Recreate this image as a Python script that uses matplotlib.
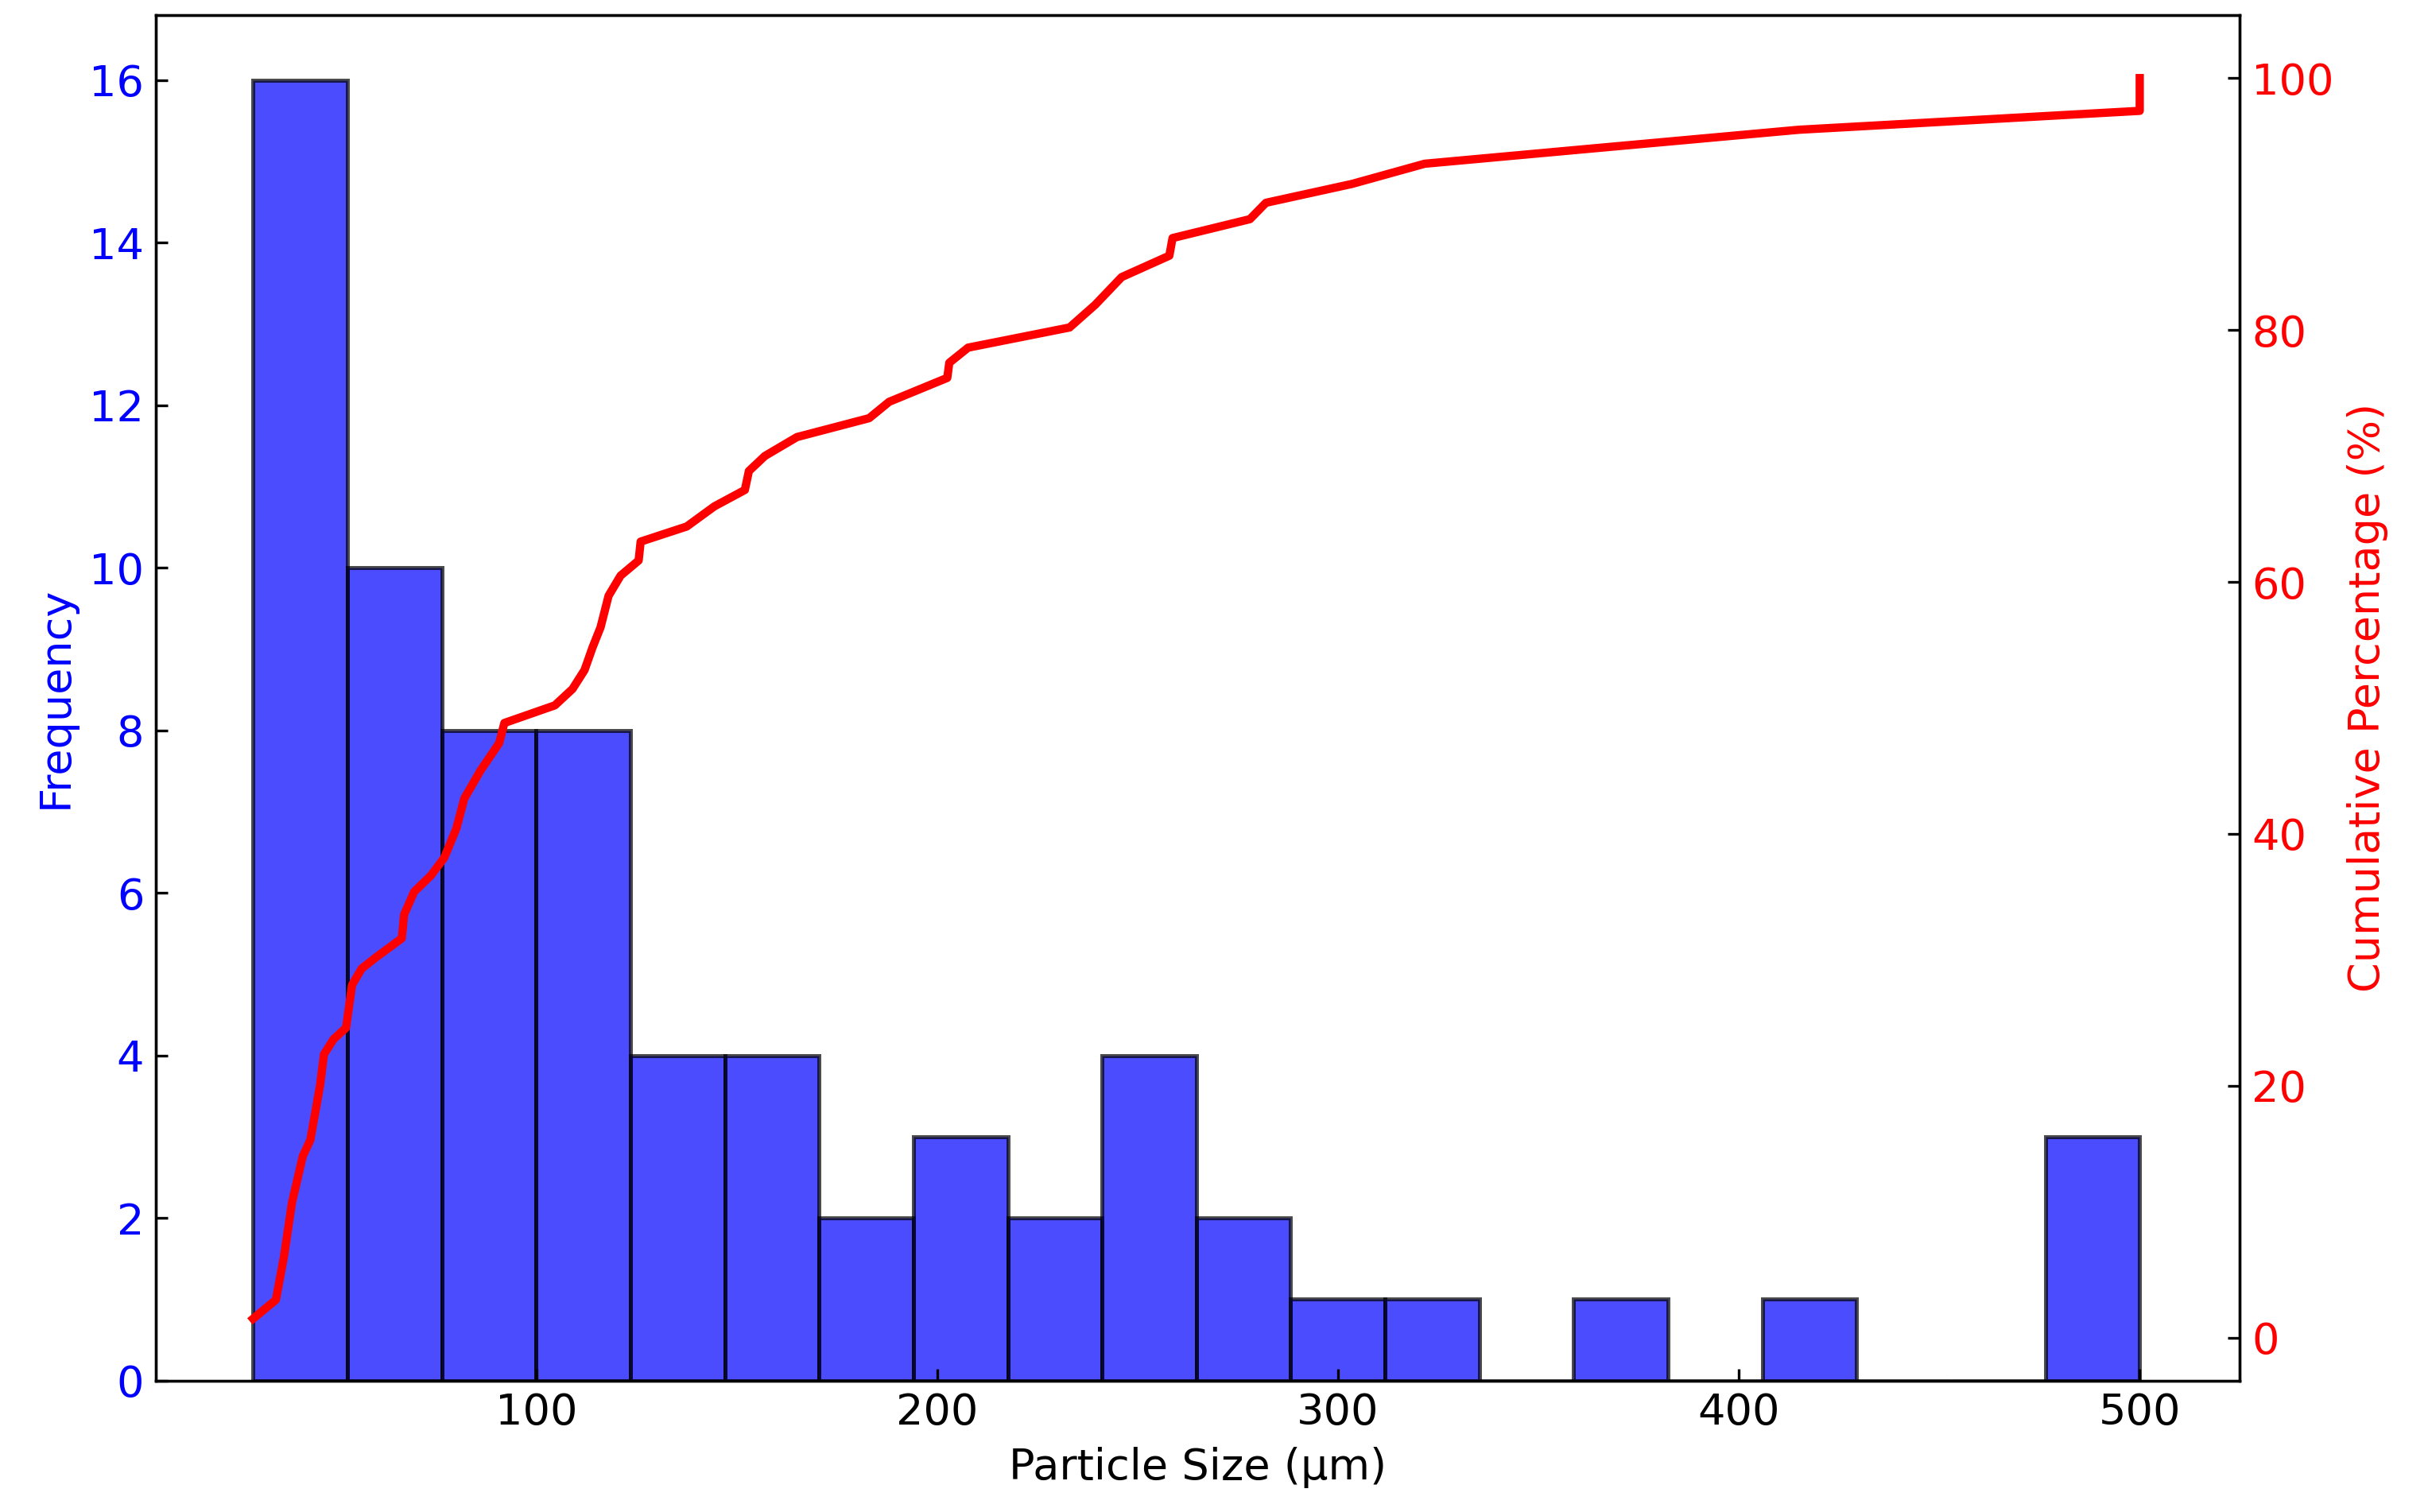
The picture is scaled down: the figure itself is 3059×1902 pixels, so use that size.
import matplotlib.pyplot as plt
import numpy as np

# histogram: 20 bins between min and max particle size
bin_lo = 29.3
bin_hi = 500.0
counts = [16, 10, 8, 8, 4, 4, 2, 3, 2, 4, 2, 1, 1, 0, 1, 0, 1, 0, 0, 3]

# cumulative percentage curve
cum_x = [29.3, 35, 37, 39, 41.7, 43.6, 46, 47, 49.4, 52.5, 54, 56.4, 60, 66.4, 67,
         69.5, 73.7, 77, 80, 82, 86, 90.7, 92, 104.6, 109, 112, 114, 116, 118, 121,
         125.5, 126, 137.5, 144.4, 152, 153, 157, 165, 183, 188, 202.5, 203, 207.7,
         233, 239.4, 246, 257.9, 258.7, 278, 282, 303.5, 321.6, 363, 415, 500, 500]
cum_y = [1.5, 3, 6.4, 10.7, 14.4, 15.7, 20, 22.5, 23.7, 24.6, 28, 29.3, 30.2, 31.7, 33.6,
         35.4, 36.7, 38.1, 40.4, 42.8, 45, 47.2, 48.8, 50.2, 51.5, 53, 54.8, 56.4, 58.9, 60.5,
         61.7, 63.2, 64.4, 66, 67.3, 68.8, 70, 71.5, 73, 74.3, 76.2, 77.4, 78.6,
         80.2, 82, 84.2, 85.9, 87.3, 88.8, 90.1, 91.6, 93.2, 94.4, 95.9, 97.4, 100]

plt.rcParams['font.size'] = 13

fig, ax = plt.subplots(figsize=(10.197, 6.34), dpi=300)
fig.subplots_adjust(left=0.064, right=0.921, top=0.99, bottom=0.087)

edges = np.linspace(bin_lo, bin_hi, len(counts) + 1)
ax.bar(edges[:-1], counts, width=np.diff(edges), align='edge',
       color='blue', alpha=0.7, edgecolor='black', linewidth=1.2)
ax.set_xlabel("Particle Size (µm)")
ax.set_ylabel("Frequency", color='blue')
ax.tick_params(axis='y', labelcolor='blue', direction='in')
ax.tick_params(axis='x', direction='in')
ax.set_ylim(0, 16.8)
ax.set_xlim(5, 525)
ax.set_xticks([100, 200, 300, 400, 500])

ax2 = ax.twinx()
ax2.plot(cum_x, cum_y, color='red', linewidth=2.5)
ax2.set_ylabel("Cumulative Percentage (%)", color='red')
ax2.tick_params(axis='y', labelcolor='red', direction='in')
ax2.set_ylim(-3.4, 105)

fig.savefig("out.png")
